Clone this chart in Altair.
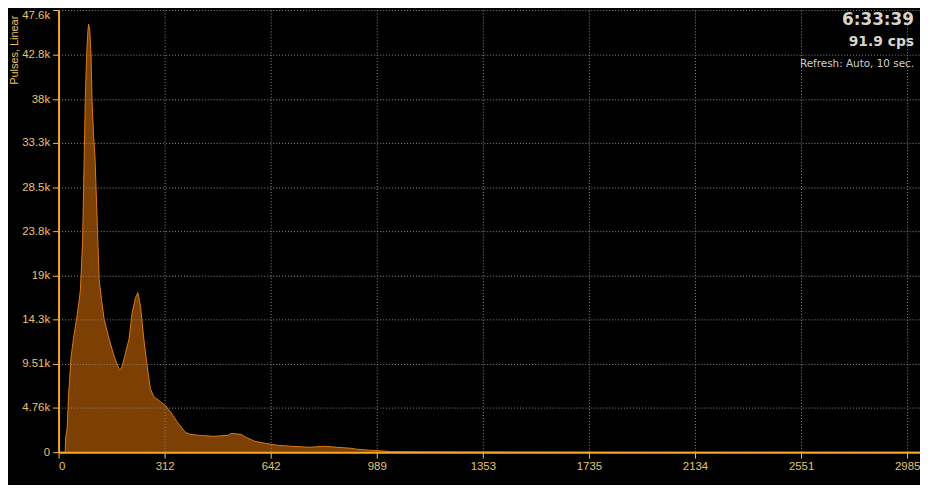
import altair as alt
import pandas as pd

# Spectrum (channel units: 100 channels per x tick), counts
channel = [0, 6.3, 6.6, 8.1, 9.4, 10.9, 11.9, 14.0, 16.5, 18.7, 20.6, 22.7, 24.3, 25.2,
           26.5, 27.6, 28.3, 29.4, 30.6, 31.5, 33.0, 34.3, 35.2, 36.7, 38.3, 40.5, 43.0,
           47.7, 52.3, 57.0, 57.9, 59.8, 61.7, 66.4, 69.4, 72.6, 74.8, 77.3, 80.4, 83.5,
           86.6, 89.7, 96.0, 100.7, 105.3, 111.5, 119.4, 124.0, 133.4, 145.8, 159.8,
           162.6, 172.0, 176.6, 185.1, 194.4, 206.5, 218.7, 237.4, 250.5, 262.6, 274.8,
           281.3, 293.5, 302.8, 314.0, 340, 380, 420, 460, 520, 812]
counts = [0, 0, 1500, 2560, 6080, 8650, 10350, 12170, 13980, 15690, 17500, 22840, 32450,
          38100, 42800, 45250, 46100, 45470, 42800, 38100, 34050, 31910, 28920, 23910,
          18570, 16440, 14300, 12170, 10350, 8970, 8860, 9180, 10030, 12170, 15050, 16650,
          17180, 15690, 12170, 9290, 6830, 5980, 5440, 5020, 4380, 3310, 2140, 1920, 1810,
          1710, 1810, 2030, 1920, 1600, 1170, 960, 750, 640, 530, 640, 530, 430, 320, 210,
          160, 50, 40, 30, 20, 10, 0, 0]

x_tick_pos = [0, 100, 200, 300, 400, 500, 600, 700, 800]
x_tick_labels = ["0", "312", "642", "989", "1353", "1735", "2134", "2551", "2985"]
y_ticks = [0, 4760, 9510, 14300, 19000, 23800, 28500, 33300, 38000, 42800, 47600]
y_tick_labels = ["0", "4.76k", "9.51k", "14.3k", "19k", "23.8k", "28.5k", "33.3k",
                 "38k", "42.8k", "47.6k"]

y_title = "Pulses, Linear"
clock_text = ["6:33:39"]
rate_text = ["91.9 cps"]
refresh_text = ["Refresh: Auto, 10 sec."]

df = pd.DataFrame({"channel": channel, "counts": counts})

GOLD = "#E8C26A"
ORANGE = "#F7A823"
GRID = "#8C8C8C"
FONT = "Liberation Sans"

x_expr = "[" + ",".join("'%s'" % s for s in x_tick_labels) + "][round(datum.value/100)]"
y_expr = " : ".join("datum.value == %d ? '%s'" % (v, s) for v, s in zip(y_ticks, y_tick_labels)) + " : ''"

area = alt.Chart(df).mark_area(
    color="#7C3F04", opacity=1, interpolate="linear",
    line={"color": "#DC7A12", "strokeWidth": 1}
).encode(
    x=alt.X("channel:Q", scale=alt.Scale(domain=[0, 812.1], nice=False, zero=False),
            axis=alt.Axis(values=x_tick_pos, labelExpr=x_expr, title=None,
                          grid=True, gridColor=GRID, gridDash=[1, 2], gridWidth=1,
                          domainColor=ORANGE, domainWidth=2, tickColor=GOLD, tickSize=6,
                          labelColor=GOLD, labelFont=FONT, labelFontSize=11.5, labelPadding=2,
                          zindex=1)),
    y=alt.Y("counts:Q", scale=alt.Scale(domain=[0, 47600], nice=False),
            axis=alt.Axis(values=y_ticks, labelExpr=y_expr, title=y_title,
                          titleColor=GOLD, titleFont=FONT, titleFontSize=11,
                          titleFontWeight="normal", titleAngle=270, titleX=-44, titleY=40,
                          titleAlign="center", titleBaseline="middle",
                          grid=True, gridColor=GRID, gridDash=[1, 2], gridWidth=1,
                          domainColor=ORANGE, domainWidth=2, tickColor=GOLD, tickSize=6,
                          labelColor=GOLD, labelFont=FONT, labelFontSize=11.5, labelPadding=3,
                          labelBaseline={"condition": {"test": "datum.value > 47000", "value": "top"},
                                         "value": "middle"},
                          zindex=1)),
)

clock = alt.Chart(pd.DataFrame({"t": clock_text})).mark_text(
    align="right", baseline="middle", font="DejaVu Sans", fontSize=17, fontWeight="bold",
    color="#D6D4CC"
).encode(text="t:N", x=alt.value(863), y=alt.value(10))

rate = alt.Chart(pd.DataFrame({"t": rate_text})).mark_text(
    align="right", baseline="middle", font="DejaVu Sans", fontSize=14, fontWeight="bold",
    color="#D6D4CC"
).encode(text="t:N", x=alt.value(863), y=alt.value(32))

refresh = alt.Chart(pd.DataFrame({"t": refresh_text})).mark_text(
    align="right", baseline="middle", font="DejaVu Sans", fontSize=10.5, color="#CFCFCF"
).encode(text="t:N", x=alt.value(863), y=alt.value(54))

chart = alt.layer(area, clock, rate, refresh).properties(
    width=869, height=446,
    autosize=alt.AutoSizeParams(type="none"),
    padding={"left": 51, "top": 0, "right": 0, "bottom": 31},
    background="#000000",
).configure_view(stroke=None)

chart.save("out.html", embed_options={"renderer": "svg", "actions": False})
